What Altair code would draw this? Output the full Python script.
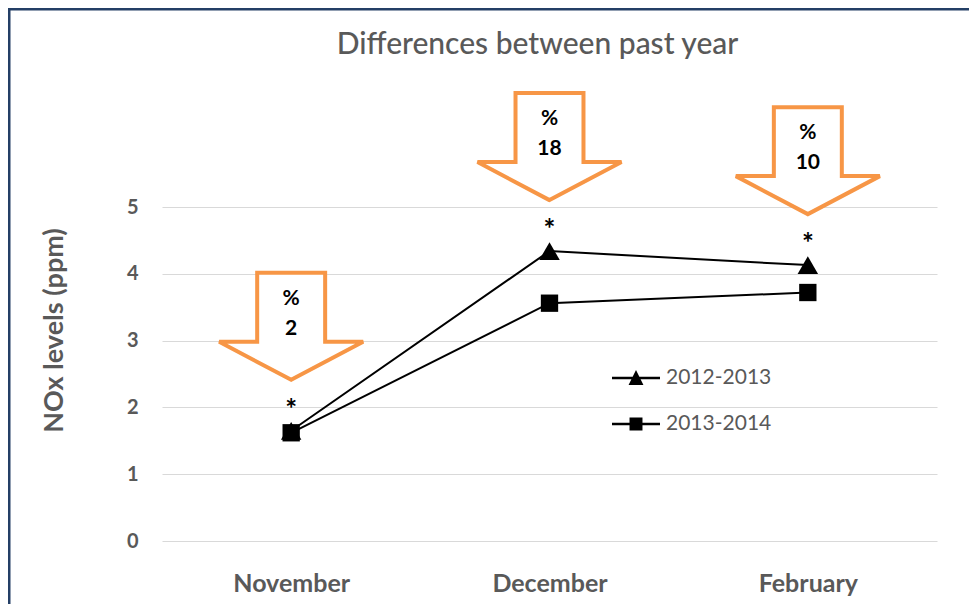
import altair as alt
import pandas as pd

months = ["November", "December", "February"]
series = ["2012-2013", "2013-2014"]
nox_2012_2013 = [1.65, 4.34, 4.13]
nox_2013_2014 = [1.62, 3.56, 3.72]
pct_diff = [2, 18, 10]
y_ticks = [0, 1, 2, 3, 4, 5]

rows = []
for m, a, b in zip(months, nox_2012_2013, nox_2013_2014):
    rows.append({"month": m, "series": series[0], "value": a})
    rows.append({"month": m, "series": series[1], "value": b})
df = pd.DataFrame(rows)
ann = pd.DataFrame({
    "month": months,
    "value": nox_2012_2013,
    "label": [f"%\n{p}" for p in pct_diff],
})

GRAY = "#595959"
FONT = "Lato"
ORANGE = "#F79646"

# arrow outline drawn as a custom symbol, anchored at the triangle point
ARROW = ("M0,-0.708 L-1,-1.236 L-0.472,-1.236 L-0.472,-2.194 "
         "L0.472,-2.194 L0.472,-1.236 L1,-1.236 Z")
# legend symbols: short line with marker (filled shapes)
LEG_TRI = ("M-1,-0.05 L1,-0.05 L1,0.05 L-1,0.05 Z "
           "M0,-0.33 L0.31,0.29 L-0.31,0.29 Z")
LEG_SQ = ("M-1,-0.05 L1,-0.05 L1,0.05 L-1,0.05 Z "
          "M-0.27,-0.27 L0.27,-0.27 L0.27,0.27 L-0.27,0.27 Z")

x_enc = alt.X(
    "month:N", sort=months,
    scale=alt.Scale(type="point", padding=0.5),
    axis=alt.Axis(title=None, labelAngle=0, ticks=False, domain=False, grid=False,
                  labelPadding=30, labelFont=FONT, labelFontSize=25,
                  labelFontWeight="bold", labelColor=GRAY),
)
y_enc = alt.Y(
    "value:Q",
    scale=alt.Scale(domain=[0, 5], nice=False, zero=True),
    axis=alt.Axis(values=y_ticks, title="NOx levels (ppm)", ticks=False, domain=False,
                  grid=True, gridColor="#D9D9D9", gridWidth=1.2,
                  labelPadding=24, labelFont=FONT, labelFontSize=20,
                  labelFontWeight="bold", labelColor=GRAY,
                  titleFont=FONT, titleFontSize=27, titleFontWeight="bold",
                  titleColor=GRAY, titleX=-108, titleY=123, titleBaseline="middle",
                  titleAngle=270),
)

base = alt.Chart(df)

lines = base.mark_line(color="black", strokeWidth=2).encode(
    x=x_enc, y=y_enc, detail="series:N"
)

points = base.mark_point(filled=True, color="black", opacity=1).encode(
    x=x_enc, y=y_enc,
    shape=alt.Shape("series:N", scale=alt.Scale(domain=series, range=["triangle-up", "square"]),
                    legend=None),
    size=alt.Size("series:N", scale=alt.Scale(domain=series, range=[420, 300]), legend=None),
)

legend_layer = base.transform_filter("false").mark_point(
    filled=True, color="black", opacity=1
).encode(
    x=x_enc, y=y_enc,
    shape=alt.Shape(
        "series:N",
        scale=alt.Scale(domain=series, range=[LEG_TRI, LEG_SQ]),
        legend=alt.Legend(title=None, orient="none", legendX=450, legendY=147,
                          symbolSize=2304, symbolStrokeWidth=0,
                          symbolFillColor="black",
                          labelFont=FONT, labelFontSize=21, labelColor=GRAY,
                          labelOffset=6, rowPadding=12, padding=0),
    ),
)

arrows = alt.Chart(ann).mark_point(
    shape=ARROW, size=20736, filled=True, fill="white", stroke=ORANGE,
    strokeWidth=4, strokeJoin="miter", opacity=1, strokeOpacity=1, fillOpacity=1
).encode(x=x_enc, y=y_enc)

arrow_text = alt.Chart(ann).mark_text(
    lineBreak="\n", lineHeight=30, baseline="middle", dy=-132,
    font=FONT, fontSize=21, fontWeight="bold", color="black"
).encode(x=x_enc, y=y_enc, text="label:N")

stars = alt.Chart(ann).mark_text(
    text="*", baseline="alphabetic", dy=-12,
    font=FONT, fontSize=28, fontWeight="bold", color="black"
).encode(x=x_enc, y=y_enc)

frame_df = pd.DataFrame({"k": [0]})
frame_left = alt.Chart(frame_df).mark_rule(color="#243F66", strokeWidth=3).encode(
    x=alt.value(-153), y=alt.value(-198), y2=alt.value(400)
)
frame_top = alt.Chart(frame_df).mark_rule(color="#243F66", strokeWidth=3).encode(
    x=alt.value(-154), x2=alt.value(810), y=alt.value(-198)
)

chart = alt.layer(
    lines, points, legend_layer, arrows, arrow_text, stars, frame_left, frame_top
).resolve_scale(
    shape="independent", size="independent"
).properties(
    width=775, height=334,
    autosize="none",
    padding={"left": 154, "top": 199, "right": 32, "bottom": 63},
    title=alt.Title("Differences between past year", frame="group", anchor="middle",
                    baseline="alphabetic", offset=0, dy=76, dx=-12, font=FONT,
                    fontSize=30, fontWeight=500, color=GRAY),
).configure_view(stroke=None)

chart.save("out.html", embed_options={"renderer": "svg", "actions": False})
